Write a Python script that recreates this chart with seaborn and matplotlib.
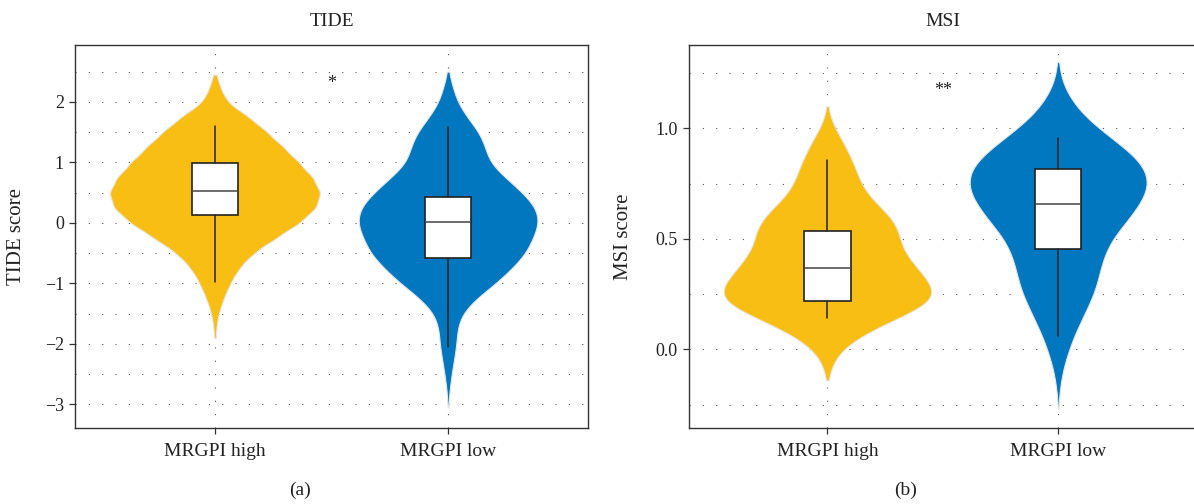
import numpy as np
import pandas as pd
import matplotlib
matplotlib.use("Agg")
import matplotlib.pyplot as plt
from matplotlib.ticker import MultipleLocator
import seaborn as sns

# ---- data -----------------------------------------------------------------
groups = ["MRGPI high", "MRGPI low"]
group_colors = ["#F9BE13", "#0077BE"]

# TIDE score distribution (score level -> number of samples)
tide_high_levels = [-1.9, -1.75, -1.5, -1.25, -1.0, -0.75, -0.5, -0.25, 0.0, 0.25,
                    0.5, 0.75, 1.0, 1.25, 1.5, 1.75, 2.0, 2.25, 2.45]
tide_high_counts = [1, 2, 7, 17, 30, 47, 75, 120, 167, 200,
                    209, 193, 165, 135, 103, 67, 23, 10, 1]
tide_low_levels = [-3.05, -2.75, -2.5, -2.25, -2.0, -1.75, -1.5, -1.25, -1.0, -0.75,
                   -0.5, -0.25, 0.0, 0.25, 0.5, 0.75, 1.0, 1.25, 1.5, 1.75,
                   2.0, 2.25, 2.5]
tide_low_counts = [1, 3, 7, 12, 17, 18, 27, 55, 95, 127,
                   155, 168, 181, 175, 148, 113, 81, 74, 62, 37,
                   18, 9, 1]

# MSI score distribution (score level -> number of samples)
msi_high_levels = [-0.14, -0.1, -0.05, 0.0, 0.05, 0.1, 0.15, 0.2, 0.25, 0.3, 0.35,
                   0.4, 0.45, 0.5, 0.55, 0.6, 0.65, 0.7, 0.75, 0.8, 0.85,
                   0.9, 0.95, 1.0, 1.05, 1.1]
msi_high_counts = [1, 5, 12, 28, 55, 95, 142, 188, 206, 193, 176,
                   158, 142, 137, 133, 120, 97, 76, 63, 56, 48,
                   38, 27, 14, 5, 1]
msi_low_levels = [-0.27, -0.2, -0.15, -0.1, -0.05, 0.0, 0.05, 0.1, 0.15, 0.2, 0.25,
                  0.3, 0.35, 0.4, 0.45, 0.5, 0.55, 0.6, 0.65, 0.7, 0.75,
                  0.8, 0.85, 0.9, 0.95, 1.0, 1.05, 1.1, 1.15, 1.2, 1.25, 1.3]
msi_low_counts = [1, 2, 5, 8, 14, 21, 28, 38, 48, 58, 68,
                  75, 79, 84, 92, 102, 120, 138, 153, 167, 173,
                  170, 157, 133, 105, 77, 52, 33, 20, 8, 4, 1]

# box summaries (high, low)
tide_q1 = [0.13, -0.58]
tide_median = [0.53, 0.01]
tide_q3 = [0.99, 0.43]
tide_whisker_low = [-0.98, -2.05]
tide_whisker_high = [1.60, 1.59]

msi_q1 = [0.22, 0.454]
msi_median = [0.37, 0.657]
msi_q3 = [0.535, 0.815]
msi_whisker_low = [0.14, 0.06]
msi_whisker_high = [0.857, 0.955]

significance = ["*", "**"]


def expand(levels, counts, label):
    return pd.DataFrame({"group": label, "score": np.repeat(levels, counts)})


tide_df = pd.concat([expand(tide_high_levels, tide_high_counts, groups[0]),
                     expand(tide_low_levels, tide_low_counts, groups[1])])
msi_df = pd.concat([expand(msi_high_levels, msi_high_counts, groups[0]),
                    expand(msi_low_levels, msi_low_counts, groups[1])])


def box_stats(q1, med, q3, lo, hi):
    return [dict(q1=q1[i], med=med[i], q3=q3[i], whislo=lo[i], whishi=hi[i],
                 fliers=[], label=groups[i]) for i in range(len(q1))]


# ---- style ------------------------------------------------------------------
sns.set_theme(style="white")
plt.rcParams["font.family"] = ["Liberation Serif", "DejaVu Serif"]
plt.rcParams["axes.unicode_minus"] = True
text_color = "#222222"

fig = plt.figure(figsize=(11.94, 5.04), dpi=100)
ax_tide = fig.add_axes([75 / 1194, 1 - 428 / 504, 513 / 1194, 383 / 504])
ax_msi = fig.add_axes([689 / 1194, 1 - 428 / 504, 507.6 / 1194, 383 / 504])

panels = [
    (ax_tide, tide_df, "TIDE", "TIDE score",
     box_stats(tide_q1, tide_median, tide_q3, tide_whisker_low, tide_whisker_high),
     (-3.39, 2.94), 1.0, 0.5, 2.31, significance[0], -0.095),
    (ax_msi, msi_df, "MSI", "MSI score",
     box_stats(msi_q1, msi_median, msi_q3, msi_whisker_low, msi_whisker_high),
     (-0.356, 1.377), 0.5, 0.25, 1.172, significance[1], -0.110),
]

dotted = (0, (1, 11))
for ax, df, title, ylabel, stats, ylim, major, minor, star_y, star, ylab_x in panels:
    ax.set_axisbelow(True)
    sns.violinplot(data=df, x="group", y="score", hue="group", order=groups,
                   hue_order=groups, palette=group_colors, saturation=1,
                   inner=None, cut=0, width=0.9, bw_method=0.19,
                   density_norm="area", common_norm=True,
                   linewidth=0.8, linecolor="#e6e6e6",
                   legend=False, ax=ax)
    ax.bxp(stats, positions=[0, 1], widths=0.2, showfliers=False, showcaps=False,
           patch_artist=True, manage_ticks=False,
           boxprops=dict(facecolor="white", edgecolor="#222222", linewidth=1.2),
           medianprops=dict(color="#444444", linewidth=1.1),
           whiskerprops=dict(color="#222222", linewidth=1.1))
    ax.set_xlim(-0.6, 1.6)
    ax.set_ylim(*ylim)
    ax.yaxis.set_major_locator(MultipleLocator(major))
    ax.yaxis.set_minor_locator(MultipleLocator(minor))
    ax.set_xticks([0, 1])
    ax.set_xticklabels(groups)
    ax.grid(which="both", axis="y", linestyle=dotted, color="#555555", linewidth=0.8)
    ax.grid(which="major", axis="x", linestyle=dotted, color="#555555", linewidth=0.8)
    ax.tick_params(which="major", direction="out", length=4, width=0.9,
                   color="#333333", labelsize=13, labelcolor=text_color,
                   left=True, bottom=True, pad=4)
    ax.tick_params(axis="x", pad=7, labelsize=14)
    ax.tick_params(which="minor", length=0)
    for spine in ax.spines.values():
        spine.set_color("#333333")
        spine.set_linewidth(1.0)
    ax.set_xlabel("")
    ax.set_ylabel(ylabel, fontsize=15, color=text_color)
    ax.yaxis.set_label_coords(ylab_x, 0.5)
    ax.set_title(title, fontsize=14, color=text_color, pad=14)
    ax.text(0.5, star_y, star, ha="center", va="center", fontsize=13,
            color=text_color)

fig.text(300 / 1194, 1 - 490 / 504, "(a)", ha="center", va="center",
         fontsize=14, color=text_color)
fig.text(906 / 1194, 1 - 490 / 504, "(b)", ha="center", va="center",
         fontsize=14, color=text_color)

fig.savefig("out.png", dpi=100)
